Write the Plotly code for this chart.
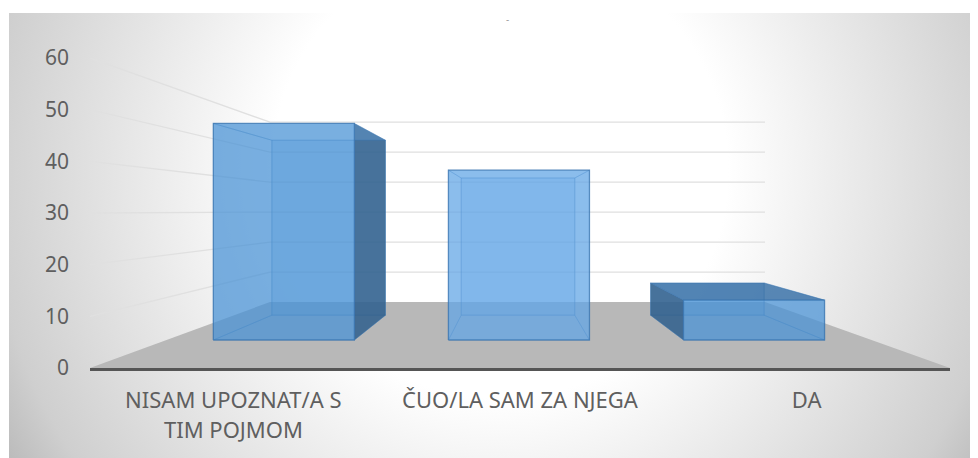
import base64
import plotly.graph_objects as go

categories = ["NISAM UPOZNAT/A S", "ČUO/LA SAM ZA NJEGA", "DA"]
second_lines = ["TIM POJMOM", "", ""]
values = [51, 40, 9.4]
y_ticks = [0, 10, 20, 30, 40, 50, 60]
bar_blues = ["#4a92d6", "#62a5e6", "#4a92d6"]

NEAR, FAR = 0.424, 0.8
BAR_W = 0.2
# the page body keeps its 8px margin, so the figure is 8px smaller than the window
W, H = 970, 450
L, R, T, B = 82, 28, 50, 90


def project(frac, v, d):
    """Depth look: floor and value scale shrink towards the back wall."""
    left = 0.2093 * d
    right = 1 - 0.2151 * d
    return left + frac * (right - left), d * 66 / 5.1667 + v * (1 - 0.42 * d)


def poly(points):
    pts = [project(*p) for p in points]
    pts.append(pts[0])
    return [p[0] for p in pts], [p[1] for p in pts]


def face(points, fill, edge="rgba(60,120,180,0.3)", width=1):
    x, y = poly(points)
    return go.Scatter(x=x, y=y, mode="lines", fill="toself", fillcolor=fill,
                      line=dict(color=edge, width=width), hoverinfo="skip")


def rgba(hex_color, a):
    r, g, b = int(hex_color[1:3], 16), int(hex_color[3:5], 16), int(hex_color[5:7], 16)
    return f"rgba({r},{g},{b},{a})"


fig = go.Figure()

# floor
fig.add_trace(face([(0, 0, 0), (1, 0, 0), (1, 0, 1), (0, 0, 1)], "#b8b8b8", "#b8b8b8", 0))

# gridlines, side wall then back wall
for t in y_ticks[1:]:
    xs, ys = zip(project(0, t, 0), project(0, t, 1), project(1, t, 1))
    fig.add_trace(go.Scatter(x=xs, y=ys, mode="lines", hoverinfo="skip",
                             line=dict(color="#e0e0e0", width=1.3)))

DARK_SIDE = "rgba(48,92,135,0.8)"
DARK_TOP = "rgba(50,105,160,0.72)"

for i, v in enumerate(values):
    c = (i + 0.5) / len(values)
    a, b = c - BAR_W / 2, c + BAR_W / 2
    near_fill = rgba(bar_blues[i], 0.6)
    far_fill = rgba(bar_blues[i], 0.5)
    soft = rgba(bar_blues[i], 0.35)

    # far face first, then the sides, near face last
    fig.add_trace(face([(a, 0, FAR), (b, 0, FAR), (b, v, FAR), (a, v, FAR)], far_fill))
    fig.add_trace(face([(a, 0, NEAR), (b, 0, NEAR), (b, 0, FAR), (a, 0, FAR)], soft))

    # a side reads dark when the far edge sticks out past the near one
    left_out = project(a, v, FAR)[0] < project(a, v, NEAR)[0]
    right_out = project(b, v, FAR)[0] > project(b, v, NEAR)[0]
    top_out = project(a, v, FAR)[1] > project(a, v, NEAR)[1]
    fig.add_trace(face([(a, 0, NEAR), (a, 0, FAR), (a, v, FAR), (a, v, NEAR)],
                       DARK_SIDE if left_out else soft))
    fig.add_trace(face([(b, 0, NEAR), (b, 0, FAR), (b, v, FAR), (b, v, NEAR)],
                       DARK_SIDE if right_out else soft))
    fig.add_trace(face([(a, v, NEAR), (b, v, NEAR), (b, v, FAR), (a, v, FAR)],
                       DARK_TOP if top_out else soft))
    fig.add_trace(face([(a, 0, NEAR), (b, 0, NEAR), (b, v, NEAR), (a, v, NEAR)], near_fill,
                       "rgba(55,115,175,0.7)", 1.3))

# radial grey background of the chart area
svg = f"""<svg xmlns="http://www.w3.org/2000/svg" width="{W}" height="{H}">
<defs><radialGradient id="g" gradientUnits="userSpaceOnUse" cx="492" cy="162" r="570">
<stop offset="0.4" stop-color="#ffffff"/><stop offset="0.9" stop-color="#cfcfcf"/>
<stop offset="1" stop-color="#bbbbbb"/></radialGradient></defs>
<rect x="1" y="5" width="{W - 1}" height="{H - 5}" fill="url(#g)"/></svg>"""
bg = "data:image/svg+xml;base64," + base64.b64encode(svg.encode()).decode()
plot_w, plot_h = W - L - R, H - T - B

fig.add_layout_image(source=bg, xref="paper", yref="paper", x=-L / plot_w, y=(plot_h + T) / plot_h,
                     sizex=W / plot_w, sizey=H / plot_h, xanchor="left", yanchor="top",
                     sizing="stretch", layer="below")

tick_x = [(i + 0.5) / len(categories) for i in range(len(categories))]
for x, text in zip(tick_x, second_lines):
    if text:
        fig.add_annotation(x=x, y=0, xref="x", yref="y", text=text, showarrow=False, yanchor="top",
                           yshift=-44, font=dict(size=22, color="#5f5f5f"))
# leftover of the cut off title
fig.add_annotation(x=0.485, y=1.155, xref="x", yref="paper", text="-", showarrow=False, yanchor="top",
                   font=dict(size=10, color="#a0a0a0"))

fig.update_layout(
    width=W, height=H, margin=dict(l=L, r=R, t=T, b=B),
    paper_bgcolor="white", plot_bgcolor="rgba(0,0,0,0)", showlegend=False,
    font=dict(family="Noto Sans", color="#5f5f5f"),
    xaxis=dict(range=[0, 1], tickvals=tick_x, ticktext=categories, showgrid=False, zeroline=False,
               showline=True, linecolor="#555555", linewidth=3, ticks="", ticklabelstandoff=11,
               tickfont=dict(size=22, color="#5f5f5f"), tickangle=0),
    yaxis=dict(range=[0, 60], tickvals=y_ticks, showgrid=False, zeroline=False, ticks="",
               ticklabelstandoff=20, tickfont=dict(size=21, color="#5f5f5f")),
)

fig.write_html("out.html")
